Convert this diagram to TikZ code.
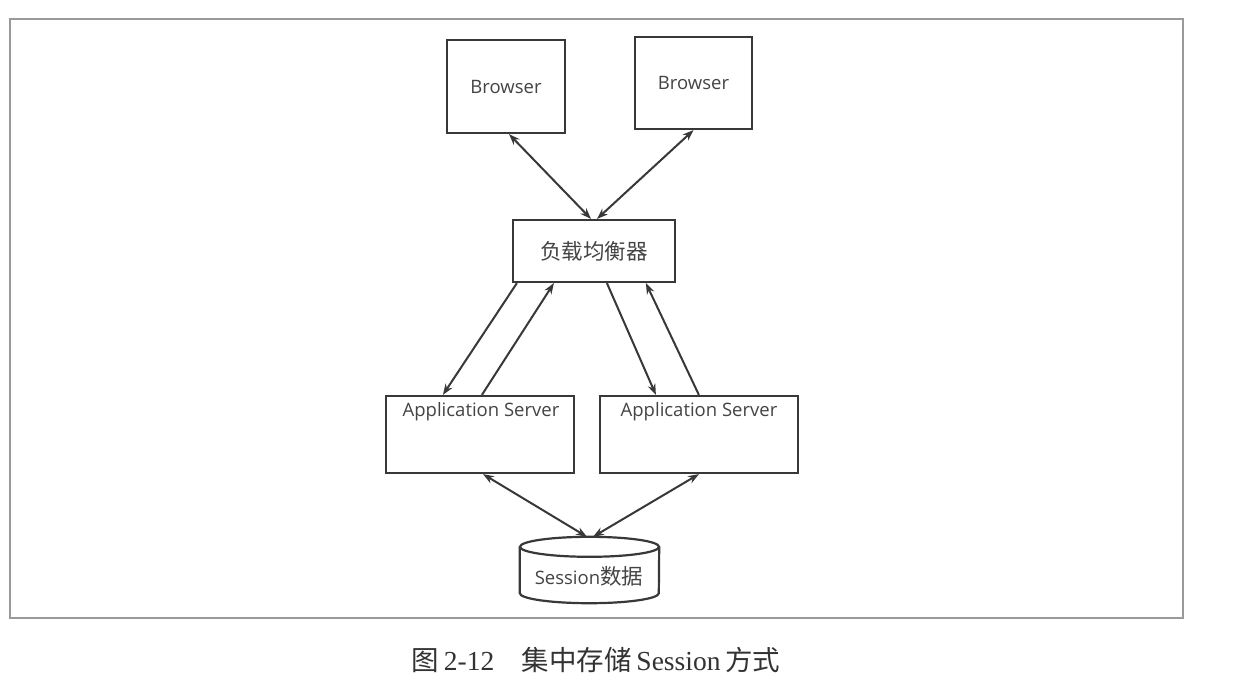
\documentclass[tikz,border=0pt]{standalone}
\usepackage{fontspec}
\usetikzlibrary{arrows.meta}
\newfontfamily\diagfont{Open Sans}
\newfontfamily\cjkfont{Noto Sans CJK SC}
\newfontfamily\capserif{Liberation Serif}
\definecolor{linec}{HTML}{383838}
\definecolor{txtc}{HTML}{444444}
\definecolor{framec}{HTML}{9A9A9A}
\begin{document}
\begin{tikzpicture}[x=1pt,y=-1pt,
  box/.style={draw=linec, line width=2.2pt, inner sep=0pt, fill=white,
    text=txtc, font=\diagfont\fontsize{18.5}{22}\selectfont},
  ghost/.style={inner sep=0pt},
  lbl/.style={inner sep=0pt, text=txtc, font=\diagfont\fontsize{18.5}{22}\selectfont},
  cyl/.style={draw=linec, line width=2.2pt},
  tip/.tip={Stealth[length=11pt,width=8pt]},
  conn/.style={draw=linec, line width=2pt, -tip},
  biconn/.style={draw=linec, line width=2pt, tip-tip},
  capt/.style={inner sep=0pt, text=black!80, font=\fontsize{27.5}{32}\selectfont}]
\useasboundingbox (0,0) rectangle (1260,694);
\fill[white] (0,0) rectangle (1260,694);
\draw[framec, line width=1.5pt] (10,19) rectangle (1183,618);

\node[box, minimum width=118pt, minimum height=93pt] (b1) at (506,86.5) {Browser};
\node[box, minimum width=117pt, minimum height=92pt] (b2) at (693.5,83) {Browser};
\node[box, minimum width=162pt, minimum height=62pt] (lb) at (594,251) {\cjkfont\fontsize{21.5}{24}\selectfont 负载均衡器};
\node[box, minimum width=188pt, minimum height=77pt] (app1) at (480,434.5) {};
\node[box, minimum width=198pt, minimum height=77pt] (app2) at (699,434.5) {};
\node[lbl, anchor=base] (app1t) at (481,416) {Application Server};
\node[lbl, anchor=base] (app2t) at (699,416) {Application Server};

\node[ghost, minimum width=139pt, minimum height=66pt] (db) at (589.5,570) {};
\draw[cyl, fill=white] ([yshift=-10pt]db.north west) -- ([yshift=10pt]db.south west)
  arc[start angle=180, end angle=360, x radius=69.5pt, y radius=10pt]
  -- ([yshift=-10pt]db.north east);
\draw[cyl] ([yshift=-10pt]db.north) ellipse [x radius=69.5pt, y radius=10pt];
\node[lbl] (dbt) at (589,576) {Session{\cjkfont\fontsize{21.5}{24}\selectfont 数据}};

\draw[biconn] ([xshift=3pt]b1.south) -- ([xshift=-3pt]lb.north);
\draw[biconn] (b2.south) -- ([xshift=3pt]lb.north);
\draw[conn] ([xshift=5pt]lb.south west) -- ([xshift=58pt]app1.north west);
\draw[conn] ([xshift=97pt]app1.north west) -- ([xshift=42pt]lb.south west);
\draw[conn] ([xshift=95pt]lb.south west) -- ([xshift=57pt]app2.north west);
\draw[conn] ([xshift=100pt]app2.north west) -- ([xshift=134pt]lb.south west);
\draw[biconn] ([xshift=3pt]app1.south) -- ([xshift=-2.5pt]db.north);
\draw[biconn] (app2.south) -- ([xshift=3.5pt]db.north);

\node[capt] (cap) at (596,660) {{\cjkfont 图}\,{\capserif 2-12}\hspace{1em}{\cjkfont 集中存储}\,{\capserif Session}\,{\cjkfont 方式}};
\end{tikzpicture}
\end{document}
